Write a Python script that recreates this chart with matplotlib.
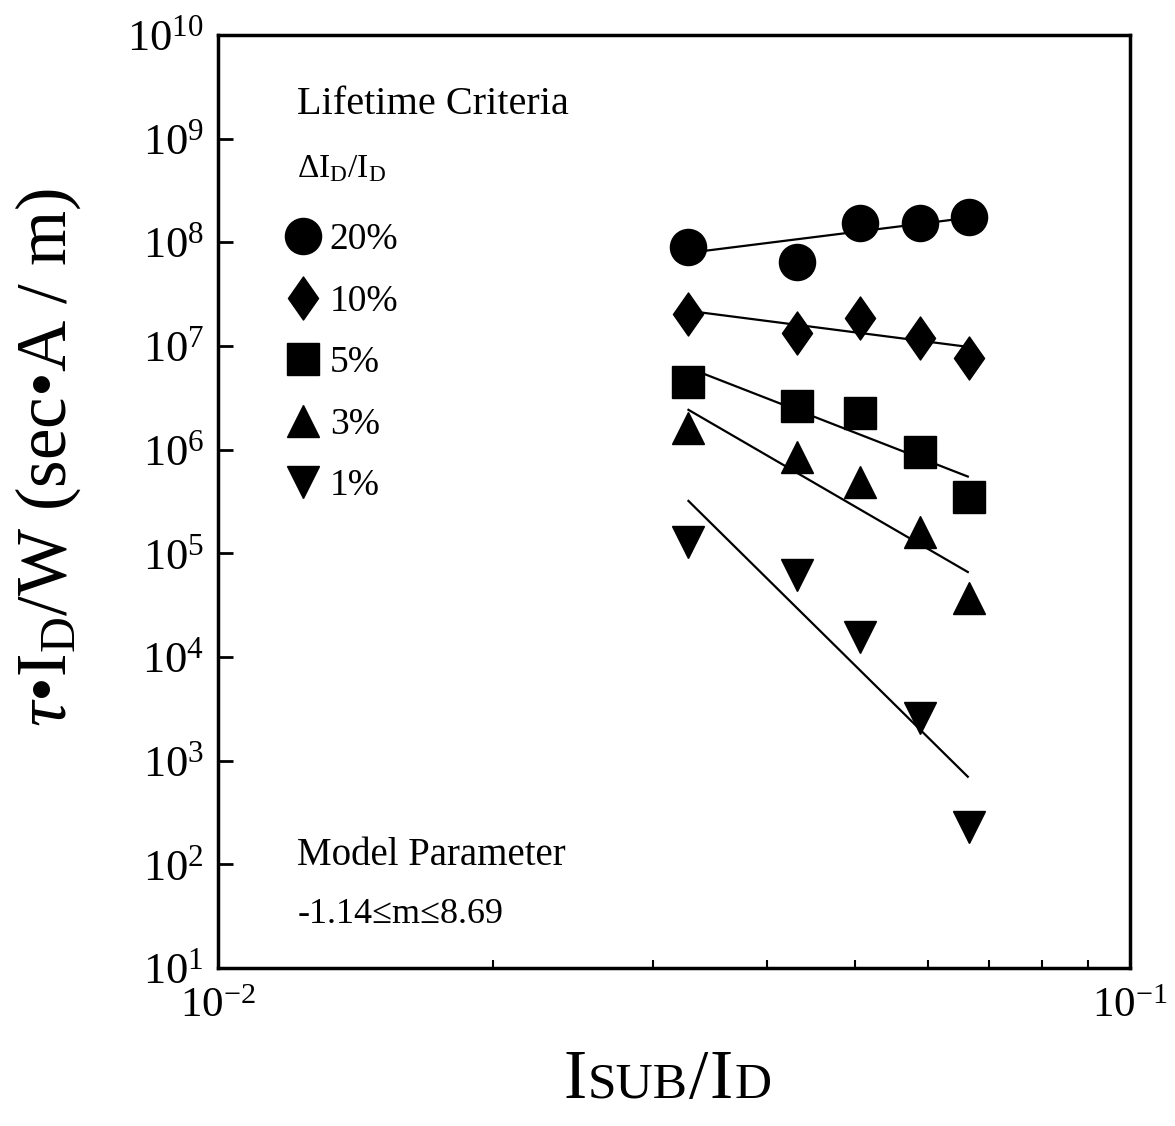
import numpy as np
import matplotlib
matplotlib.use("Agg")
import matplotlib.pyplot as plt
from matplotlib.path import Path
from matplotlib.ticker import NullFormatter
from matplotlib.offsetbox import TextArea, HPacker, AnchoredOffsetbox

plt.rcParams["font.family"] = ["Liberation Serif", "DejaVu Serif"]
plt.rcParams["mathtext.fontset"] = "custom"
plt.rcParams["mathtext.rm"] = "Liberation Serif"
plt.rcParams["mathtext.it"] = "Liberation Serif:italic"
plt.rcParams["mathtext.bf"] = "Liberation Serif:bold"

# data
isub_ratio = [0.0328, 0.0431, 0.0506, 0.0589, 0.0666]
tau_20 = [9.0e7, 6.5e7, 1.54e8, 1.54e8, 1.76e8]
tau_10 = [2.04e7, 1.34e7, 1.87e7, 1.20e7, 7.7e6]
tau_5 = [4.5e6, 2.64e6, 2.26e6, 9.5e5, 3.5e5]
tau_3 = [1.62e6, 8.5e5, 4.9e5, 1.61e5, 3.7e4]
tau_1 = [1.29e5, 6.2e4, 1.57e4, 2.6e3, 2.3e2]

# fitted lines (end points)
fit_x = [0.0328, 0.0664]
fit_20 = [7.9e7, 1.72e8]
fit_10 = [2.18e7, 9.8e6]
fit_5 = [6.15e6, 5.5e5]
fit_3 = [2.42e6, 6.6e4]
fit_1 = [3.2e5, 7.0e2]

criteria = ["20%", "10%", "5%", "3%", "1%"]
y_exps = [1, 2, 3, 4, 5, 6, 7, 8, 9, 10]
x_exps = [-2, -1]

thin_diamond = Path([(0, 1), (0.7, 0), (0, -1), (-0.7, 0), (0, 1)],
                    [Path.MOVETO, Path.LINETO, Path.LINETO, Path.LINETO, Path.CLOSEPOLY])

series = [
    (tau_20, fit_20, "o", 26),
    (tau_10, fit_10, thin_diamond, 31),
    (tau_5, fit_5, "s", 23),
    (tau_3, fit_3, "^", 23),
    (tau_1, fit_1, "v", 23),
]

fig = plt.figure(figsize=(11.75, 11.26), dpi=100)
ax = fig.add_axes([0.1855, 0.1403, 0.7762, 0.8287])

handles = []
for (vals, fit, mk, ms), lab in zip(series, criteria):
    ax.plot(fit_x, fit, color="black", lw=1.6, zorder=2)
    h, = ax.plot(isub_ratio, vals, linestyle="none", marker=mk, ms=ms,
                 color="black", zorder=3, label=lab)
    handles.append(h)

ax.set_xscale("log")
ax.set_yscale("log")
ax.set_xlim(1e-2, 1e-1)
ax.set_ylim(1e1, 1e10)

ax.set_yticks([10.0 ** e for e in y_exps],
              labels=[r"$\mathregular{10^{%d}}$" % e for e in y_exps])
ax.set_xticks([10.0 ** e for e in x_exps],
              labels=[r"$\mathregular{10^{%d}}$" % e for e in x_exps])
ax.xaxis.set_minor_formatter(NullFormatter())
ax.yaxis.set_minor_formatter(NullFormatter())

for s in ax.spines.values():
    s.set_linewidth(2.5)
ax.tick_params(axis="y", which="major", direction="in", length=11, width=2,
               labelsize=32, pad=10)
ax.tick_params(axis="y", which="minor", direction="in", length=6, width=1.8)
ax.tick_params(axis="x", which="major", direction="in", length=0,
               labelsize=31, pad=14)
ax.tick_params(axis="x", which="minor", direction="in", length=6, width=1.5)

ax.text(0.087, 0.925, "Lifetime Criteria", transform=ax.transAxes,
        fontsize=29, va="center", ha="left")
ax.text(0.087, 0.857, r"$\Delta$I$_\mathregular{D}$/I$_\mathregular{D}$",
        transform=ax.transAxes, fontsize=24, va="center", ha="left")
ax.legend(handles=handles, loc="upper left", bbox_to_anchor=(0.0724, 0.7985),
          frameon=False, fontsize=27, borderpad=0, borderaxespad=0,
          handlelength=1.0, handletextpad=0.22, labelspacing=0.72, numpoints=1)

ax.text(0.087, 0.121, "Model Parameter", transform=ax.transAxes,
        fontsize=28, va="center", ha="left")
ax.text(0.087, 0.057, "-1.14\u2264m\u22648.69", transform=ax.transAxes,
        fontsize=26, va="center", ha="left")

fig.text(0.041, 0.594, r"$\tau$•I$_\mathregular{D}$/W (sec•A / m)",
         rotation=90, fontsize=51, ha="center", va="center")

parts = [("I", 50), ("SUB", 37), ("/", 50), ("I", 50), ("D", 37)]
box = HPacker(children=[TextArea(t, textprops=dict(fontsize=fs, family="Liberation Serif"))
                        for t, fs in parts], align="baseline", pad=0, sep=1)
anch = AnchoredOffsetbox(loc="center", child=box, frameon=False, pad=0,
                         bbox_to_anchor=(0.568, 0.04), bbox_transform=fig.transFigure)
fig.add_artist(anch)

fig.savefig("out.png", dpi=100)
